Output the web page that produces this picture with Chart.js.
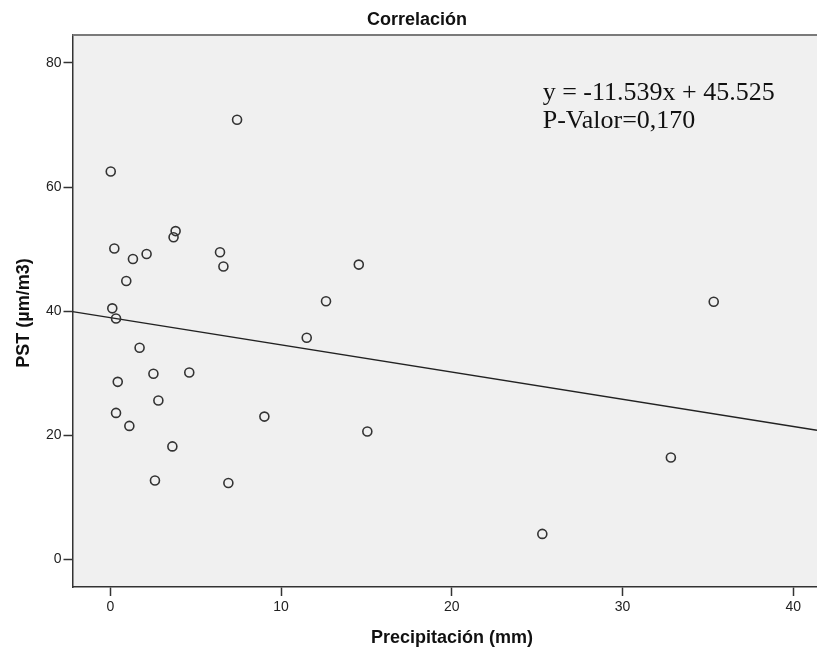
<!DOCTYPE html>
<html>
<head>
<meta charset="utf-8">
<script src="https://cdn.jsdelivr.net/npm/chart.js@4/dist/chart.umd.min.js"></script>
<style>
html,body{margin:0;padding:0;background:#fff;}
canvas{display:block;}
</style>
</head>
<body>
<canvas id="c" width="817" height="649"></canvas>
<script>
// Data
const precipitacion = [7.42, 0.02, 3.82, 3.70, 0.23, 1.32, 2.12, 6.42, 6.62, 0.93, 14.55, 12.63, 0.11, 0.33, 11.50, 1.71, 2.52, 4.62, 0.43, 2.81, 0.33, 1.11, 9.02, 3.63, 2.61, 6.91, 35.34, 32.83, 25.30, 15.05];
const pst = [70.85, 62.5, 52.9, 51.9, 50.1, 48.4, 49.2, 49.5, 47.2, 44.85, 47.5, 41.6, 40.45, 38.8, 35.7, 34.1, 29.9, 30.1, 28.6, 25.6, 23.6, 21.5, 23.0, 18.2, 12.7, 12.3, 41.5, 16.4, 4.1, 20.6];
const fitX = [-2.22, 41.39];
const fitY = [39.92, 20.82];
const xTicks = [0, 10, 20, 30, 40];
const yTicks = [0, 20, 40, 60, 80];
const titleText = 'Correlación';
const xTitle = 'Precipitación (mm)';
const yTitle = 'PST (µm/m3)';
const noteLines = ['y = -11.539x + 45.525', 'P-Valor=0,170'];

const sans = '"Liberation Sans", Arial, sans-serif';

const decor = {
  id: 'decor',
  beforeDraw(chart) {
    const {ctx, chartArea: a} = chart;
    ctx.save();
    ctx.fillStyle = '#f0f0f0';
    ctx.fillRect(a.left, a.top, a.right - a.left, a.bottom - a.top);
    ctx.restore();
  },
  afterDraw(chart) {
    const {ctx, chartArea: a} = chart;
    ctx.save();
    ctx.strokeStyle = '#7a7a7a';
    ctx.lineWidth = 2;
    ctx.beginPath();
    ctx.moveTo(a.left, a.top);
    ctx.lineTo(a.right, a.top);
    ctx.stroke();
    ctx.fillStyle = '#111';
    ctx.textAlign = 'center';
    ctx.textBaseline = 'middle';
    ctx.font = 'bold 18px ' + sans;
    ctx.fillText(titleText, 417, 20);
    ctx.fillText(xTitle, 452, 638);
    ctx.save();
    ctx.translate(24, 313);
    ctx.rotate(-Math.PI / 2);
    ctx.fillText(yTitle, 0, 0);
    ctx.restore();
    ctx.textAlign = 'left';
    ctx.font = '26px "Liberation Serif", "Times New Roman", serif';
    ctx.fillText(noteLines[0], 542.7, 93);
    ctx.fillText(noteLines[1], 542.7, 121.5);
    ctx.restore();
  }
};

new Chart(document.getElementById('c'), {
  type: 'scatter',
  data: {
    datasets: [
      {
        type: 'line',
        data: fitX.map((x, i) => ({x, y: fitY[i]})),
        borderColor: '#222',
        borderWidth: 1.5,
        pointRadius: 0,
        fill: false,
        order: 2
      },
      {
        data: precipitacion.map((x, i) => ({x, y: pst[i]})),
        pointStyle: 'circle',
        pointRadius: 4.5,
        pointBorderWidth: 1.6,
        borderColor: '#333',
        backgroundColor: 'rgba(0,0,0,0)',
        pointBackgroundColor: 'rgba(0,0,0,0)',
        order: 1
      }
    ]
  },
  options: {
    responsive: false,
    animation: false,
    events: [],
    layout: {autoPadding: false, padding: {top: 35, right: 0, left: 0, bottom: 0}},
    plugins: {legend: {display: false}, tooltip: {enabled: false}, title: {display: false}},
    scales: {
      x: {
        type: 'linear',
        min: -2.22,
        max: 41.39,
        afterBuildTicks(s) { s.ticks = xTicks.map(v => ({value: v})); },
        afterFit(s) { s.height = 62; s.paddingLeft = 0; s.paddingRight = 0; },
        grid: {display: true, drawOnChartArea: false, drawTicks: true, tickLength: 9, tickColor: '#333', tickWidth: 1.5},
        border: {display: true, color: '#333', width: 1.5},
        ticks: {color: '#222', font: {size: 14, family: sans}, padding: 3, maxRotation: 0, autoSkip: false}
      },
      y: {
        type: 'linear',
        min: -4.46,
        max: 84.5,
        afterBuildTicks(s) { s.ticks = yTicks.map(v => ({value: v})); },
        afterFit(s) { s.width = 72.5; s.paddingTop = 0; s.paddingBottom = 0; },
        grid: {display: true, drawOnChartArea: false, drawTicks: true, tickLength: 9, tickColor: '#333', tickWidth: 1.5},
        border: {display: true, color: '#333', width: 1.5},
        ticks: {color: '#222', font: {size: 14, family: sans}, padding: 2, autoSkip: false}
      }
    }
  },
  plugins: [decor]
});
</script>
</body>
</html>
